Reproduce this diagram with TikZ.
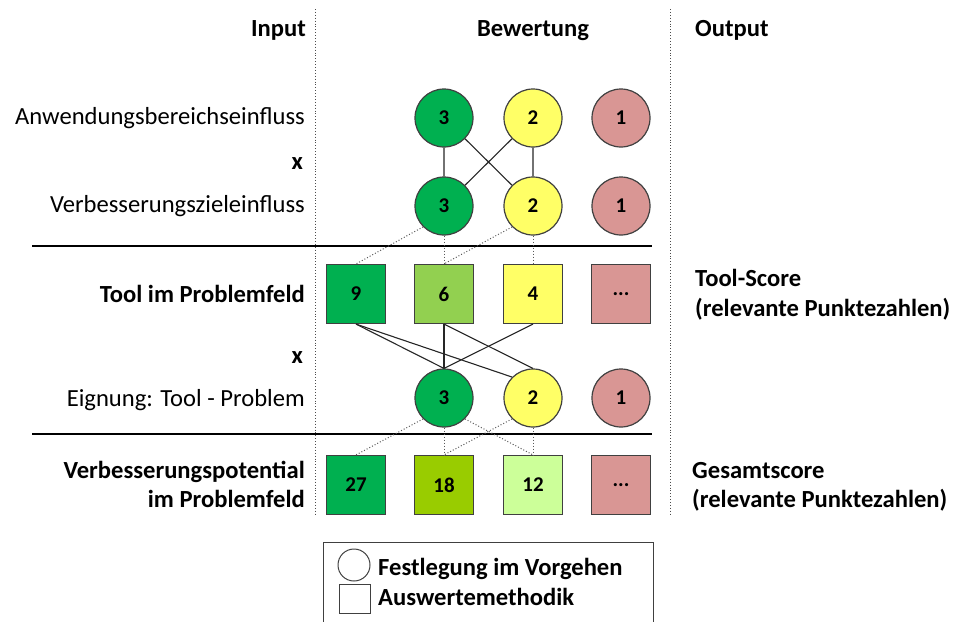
\documentclass[tikz,border=0pt]{standalone}
\usepackage{fontspec}
\setmainfont{Carlito}
\definecolor{gruen}{HTML}{00B050}
\definecolor{hellgruen}{HTML}{92D050}
\definecolor{olivgruen}{HTML}{99CC00}
\definecolor{blassgruen}{HTML}{CCFF99}
\definecolor{gelb}{HTML}{FFFF66}
\definecolor{rosa}{HTML}{D99694}
\begin{document}
\begin{tikzpicture}[x=1pt,y=-1pt,font=\fontsize{24.6}{29}\selectfont,
  kreis/.style={circle,draw=black!75,line width=1.2pt,minimum size=58pt,
    inner sep=0pt,font=\fontsize{21}{24}\selectfont\bfseries},
  kasten/.style={rectangle,draw=black!75,line width=1.2pt,minimum size=59pt,
    inner sep=0pt,font=\fontsize{21}{24}\selectfont\bfseries},
  verbindung/.style={line width=1.1pt,black!85},
  punktiert/.style={dotted,line width=1pt,black!65},
  trenner/.style={dotted,line width=0.9pt,black!70},
  links/.style={anchor=base east,align=right,inner sep=0pt},
  rechts/.style={anchor=base west,align=left,inner sep=0pt}]
  \useasboundingbox (0,0) rectangle (955,621);
  % Spalten
  \coordinate (tl1) at (315,9);
  \coordinate (tl2) at (315,516);
  \coordinate (tr1) at (670,9);
  \coordinate (tr2) at (670,516);
  \draw[trenner] (tl1) -- (tl2);
  \draw[trenner] (tr1) -- (tr2);
  \coordinate (h1a) at (32,246);
  \coordinate (h1b) at (652,246);
  \coordinate (h2a) at (32,434);
  \coordinate (h2b) at (652,434);
  \draw[line width=1.3pt] (h1a) -- (h1b) (h2a) -- (h2b);
  % Kopfzeile
  \node[links,font=\fontsize{24.6}{29}\selectfont\bfseries] (input) at (306,36) {Input};
  \node[anchor=base,inner sep=0pt,font=\fontsize{24.6}{29}\selectfont\bfseries] (bewertung) at (533,36) {Bewertung};
  \node[rechts,font=\fontsize{24.6}{29}\selectfont\bfseries] (output) at (695,36) {Output};
  % Beschriftung links
  \node[links] (anw) at (305,124) {Anwendungsbereichseinfluss};
  \node[links,font=\fontsize{24.6}{29}\selectfont\bfseries] (mal1) at (303,169) {x};
  \node[links] (verb) at (305,212) {Verbesserungszieleinfluss};
  \node[links,font=\fontsize{24.6}{29}\selectfont\bfseries] (tool) at (305,302) {Tool im Problemfeld};
  \node[links,font=\fontsize{24.6}{29}\selectfont\bfseries] (mal2) at (303,363) {x};
  \node[links] (eign) at (305,406) {Eignung: Tool - Problem};
  \node[links,font=\fontsize{24.6}{28.7}\selectfont\bfseries] (pot) at (305,507)
    {Verbesserungspotential\\im Problemfeld};
  % Beschriftung rechts
  \node[rechts,font=\fontsize{24.6}{30}\selectfont\bfseries] (tscore) at (695,316)
    {Tool-Score\\(relevante Punktezahlen)};
  \node[rechts,font=\fontsize{24.6}{28.7}\selectfont\bfseries] (gscore) at (692,507)
    {Gesamtscore\\(relevante Punktezahlen)};
  % Kreise oben
  \node[kreis,fill=gruen] (a3) at (444,118) {3};
  \node[kreis,fill=gelb] (a2) at (533,118) {2};
  \node[kreis,fill=rosa] (a1) at (621,118) {1};
  \node[kreis,fill=gruen] (v3) at (444,206) {3};
  \node[kreis,fill=gelb] (v2) at (533,206) {2};
  \node[kreis,fill=rosa] (v1) at (621,206) {1};
  \draw[verbindung] (a3) -- (v3) (a2) -- (v2) (a3) -- (v2) (a2) -- (v3);
  % Tool-Score
  \node[kasten,fill=gruen] (s9) at (356,294) {9};
  \node[kasten,fill=hellgruen] (s6) at (444,294) {6};
  \node[kasten,fill=gelb] (s4) at (533,294) {4};
  \node[kasten,fill=rosa] (sp) at (621,294) {...};
  \draw[punktiert] (v3.south west) -- (s9.north);
  \draw[punktiert] (v3.south) -- (s6.north);
  \draw[punktiert] (v2.south west) -- (s6.north);
  \draw[punktiert] (v2.south) -- (s4.north);
  % Eignung
  \node[kreis,fill=gruen] (e3) at (444,398) {3};
  \node[kreis,fill=gelb] (e2) at (533,398) {2};
  \node[kreis,fill=rosa] (e1) at (621,398) {1};
  \draw[verbindung] (s9.south) -- (e3.north);
  \draw[verbindung] (s9.south) -- (e2.north west);
  \draw[verbindung] (s6.south) -- (e3.north);
  \draw[verbindung] (s6.south) -- (e2.north);
  \draw[verbindung] (s4.south) -- (e3.north);
  % Gesamtscore
  \node[kasten,fill=gruen] (g27) at (356,485) {27};
  \node[kasten,fill=olivgruen] (g18) at (444,485) {18};
  \node[kasten,fill=blassgruen] (g12) at (533,485) {12};
  \node[kasten,fill=rosa] (gp) at (621,485) {...};
  \draw[punktiert] (e3.south west) -- (g27.north);
  \draw[punktiert] (e3.south) -- (g18.north);
  \draw[punktiert] (e2.south west) -- (g18.north);
  \draw[punktiert] (e3.south east) -- (g12.north);
  \draw[punktiert] (e2.south) -- (g12.north);
  % Legende
  \draw[line width=1pt,black!75] (323,542) rectangle (653,640);
  \node[circle,draw=black!75,line width=1pt,minimum size=32pt,inner sep=0pt] (lkreis) at (354,565) {};
  \node[rectangle,draw=black!75,line width=1pt,minimum width=31pt,minimum height=29pt,inner sep=0pt] (lkasten) at (354.5,598.5) {};
  \node[rechts,font=\fontsize{24.6}{29}\selectfont\bfseries] (lfest) at (378,575) {Festlegung im Vorgehen};
  \node[rechts,font=\fontsize{24.6}{29}\selectfont\bfseries] (lausw) at (378,605) {Auswertemethodik};
\end{tikzpicture}
\end{document}
